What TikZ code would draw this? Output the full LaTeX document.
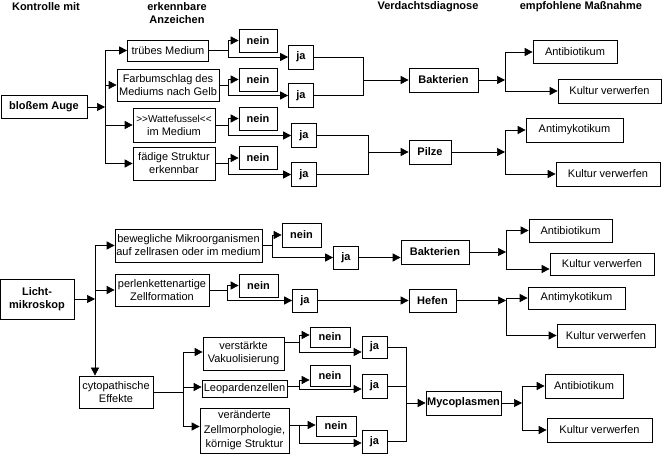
\documentclass[tikz,border=0pt]{standalone}
\usepackage{fontspec}
\setmainfont{Liberation Sans}
\usetikzlibrary{arrows.meta}
\tikzset{
  every node/.style={font=\fontsize{11}{13}\selectfont},
  box/.style={draw, line width=0.7pt, inner sep=0pt, align=center},
  bbox/.style={box, font=\fontsize{11}{13}\selectfont\bfseries},
  neinbox/.style={bbox, minimum width=38pt, minimum height=23pt},
  jabox/.style={bbox, minimum width=25pt, minimum height=24pt},
  head/.style={align=center, inner sep=0pt, font=\fontsize{11}{13}\selectfont\bfseries},
  ln/.style={line width=0.7pt},
  arr/.style={line width=0.7pt, -{Triangle[length=8pt,width=8pt]}}
}
\begin{document}
\begin{tikzpicture}[x=1pt,y=-1pt]
\useasboundingbox (0,0) rectangle (662,454);

% headers
\node[head] (h1) at (46,7) {Kontrolle mit};
\node[head] (h2) at (177,13) {erkennbare\\Anzeichen};
\node[head] (h3) at (428,7) {Verdachtsdiagnose};
\node[head] (h4) at (581,7) {empfohlene Maßnahme};

% ---------------- top section ----------------
\node[bbox, minimum width=86pt, minimum height=23pt] (auge) at (44,107) {bloßem Auge};
\coordinate (t1) at (105,107);
\node[box, minimum width=81pt, minimum height=21pt] (tm) at (168,50.5) {trübes Medium};
\node[box, minimum width=102pt, minimum height=32pt] (fa) at (168,85) {Farbumschlag des\\Mediums nach Gelb};
\node[box, minimum width=82pt, minimum height=34pt] (wa) at (174,125) {{\fontsize{10}{13}\selectfont >\kern0pt>Wattefussel<\kern0pt<}\\im Medium};
\node[box, minimum width=82pt, minimum height=33pt] (fs) at (174,163.5) {fädige Struktur\\erkennbar};

\draw[arr] (auge.east) -- (t1);
\draw[ln] (tm.west -| t1) -- (fs.west -| t1);
\draw[arr] (tm.west -| t1) -- (tm.west);
\draw[arr] (fa.west -| t1) -- (fa.west);
\draw[arr] (wa.west -| t1) -- (wa.west);
\draw[arr] (fs.west -| t1) -- (fs.west);

\node[neinbox] (n1) at (258,40.5) {nein};
\node[neinbox] (n2) at (258,79.5) {nein};
\node[neinbox] (n3) at (258,118.5) {nein};
\node[neinbox] (n4) at (258,158) {nein};
\node[jabox] (j1) at (301,57) {ja};
\node[jabox] (j2) at (301,95.5) {ja};
\node[jabox] (j3) at (304,135.5) {ja};
\node[jabox] (j4) at (304,174.5) {ja};

\coordinate (s1) at (228,0);
\draw[ln] (tm.east) -- (tm.east -| s1);
\draw[arr] (tm.east -| s1) |- (n1.west);
\draw[arr] (tm.east -| s1) |- (j1.west);
\draw[ln] (fa.east) -- (fa.east -| s1);
\draw[arr] (fa.east -| s1) |- (n2.west);
\draw[arr] (fa.east -| s1) |- (j2.west);
\draw[ln] (wa.east) -- (wa.east -| s1);
\draw[arr] (wa.east -| s1) |- (n3.west);
\draw[arr] (wa.east -| s1) |- (j3.west);
\draw[ln] (fs.east) -- (fs.east -| s1);
\draw[arr] (fs.east -| s1) |- (n4.west);
\draw[arr] (fs.east -| s1) |- (j4.west);

\node[bbox, minimum width=69pt, minimum height=24pt] (bak1) at (443.5,80) {Bakterien};
\node[bbox, minimum width=42pt, minimum height=24pt] (pil) at (430,152) {Pilze};

\coordinate (m1) at (363,0);
\coordinate (m2) at (368,0);
\draw[ln] (j1.east) -| (m1 |- j2.east) -- (j2.east);
\draw[arr] (bak1.west -| m1) -- (bak1.west);
\draw[ln] (j3.east) -| (m2 |- j4.east) -- (j4.east);
\draw[arr] (pil.west -| m2) -- (pil.west);

\node[box, minimum width=84pt, minimum height=23pt] (ab1) at (575,52) {Antibiotikum};
\node[box, minimum width=103pt, minimum height=24pt] (kv1) at (609.5,91) {Kultur verwerfen};
\node[box, minimum width=97pt, minimum height=24pt] (am1) at (574.5,130) {Antimykotikum};
\node[box, minimum width=104pt, minimum height=24pt] (kv2) at (608,174) {Kultur verwerfen};

\coordinate (r1) at (505,0);
\draw[arr] (bak1.east) -- (bak1.east -| r1);
\draw[arr] (bak1.east -| r1) |- (ab1.west);
\draw[arr] (bak1.east -| r1) |- (kv1.west);
\draw[arr] (pil.east) -- (pil.east -| r1);
\draw[arr] (pil.east -| r1) |- (am1.west);
\draw[arr] (pil.east -| r1) |- (kv2.west);

% ---------------- bottom section ----------------
\node[bbox, minimum width=74pt, minimum height=40pt] (li) at (37,299) {Licht-\\mikroskop};
\coordinate (t2) at (95,299);
\node[box, minimum width=147pt, minimum height=33pt] (bew) at (188.5,245.5) {bewegliche Mikroorganismen\\auf zellrasen oder im medium};
\node[box, minimum width=94pt, minimum height=32pt] (perl) at (162,290) {perlenkettenartige\\Zellformation};
\node[box, minimum width=74pt, minimum height=32pt] (cy) at (116,392) {cytopathische\\Effekte};

\draw[arr] (li.east) -- (t2);
\draw[arr] (t2) |- (bew.west);
\draw[arr] (t2) |- (perl.west);
\draw[arr] (t2) -- (t2 |- cy.north);

\node[neinbox, minimum width=39pt, minimum height=24pt] (nb) at (301.5,235) {nein};
\node[jabox, minimum height=23pt] (jb) at (346,257.5) {ja};
\coordinate (s3) at (272,0);
\draw[ln] (bew.east) -- (bew.east -| s3);
\draw[arr] (bew.east -| s3) |- (nb.west);
\draw[arr] (bew.east -| s3) |- (jb.west);

\node[neinbox, minimum width=39pt] (np) at (258.5,285.5) {nein};
\node[jabox, minimum height=23pt] (jp) at (305,300.5) {ja};
\coordinate (s4) at (227,0);
\draw[ln] (perl.east) -- (perl.east -| s4);
\draw[arr] (perl.east -| s4) |- (np.west);
\draw[arr] (perl.east -| s4) |- (jp.west);

\node[bbox, minimum width=68pt, minimum height=24pt] (bak2) at (435,252) {Bakterien};
\node[bbox, minimum width=47pt, minimum height=23pt] (hef) at (432.5,300.5) {Hefen};
\draw[arr] (jb.east) -- (jb.east -| bak2.west);
\draw[arr] (jp.east) -- (hef.west);

\node[box, minimum width=83pt, minimum height=23pt] (ab2) at (570.5,230.5) {Antibiotikum};
\node[box, minimum width=104pt, minimum height=22pt] (kv3) at (602,264) {Kultur verwerfen};
\node[box, minimum width=97pt, minimum height=22pt] (am2) at (576.5,298) {Antimykotikum};
\node[box, minimum width=98pt, minimum height=23pt] (kv4) at (606,335.5) {Kultur verwerfen};

\coordinate (r3) at (506,0);
\draw[arr] (bak2.east) -- (bak2.east -| r3);
\draw[arr] (bak2.east -| r3) |- (ab2.west);
\draw[arr] (bak2.east -| r3) |- ([yshift=-5pt]kv3.west);
\draw[arr] (hef.east) -- (hef.east -| r3);
\draw[arr] (hef.east -| r3) |- (am2.west);
\draw[arr] (hef.east -| r3) |- (kv4.west);

% cytopathic branch
\node[box, minimum width=81pt, minimum height=33pt] (vak) at (243.5,353.5) {verstärkte\\Vakuolisierung};
\node[box, minimum width=85pt, minimum height=17pt] (leo) at (244.5,388.5) {Leopardenzellen};
\node[box, minimum width=89pt, minimum height=45pt] (ver) at (244.5,430.5) {veränderte\\[1.5pt]Zellmorphologie,\\[1.5pt]körnige Struktur};
\coordinate (s5) at (183,0);
\draw[ln] (cy.east) -- (cy.east -| s5);
\draw[arr] (cy.east -| s5) |- ([yshift=1.5pt]vak.west);
\draw[arr] (cy.east -| s5) |- ([yshift=1.5pt]leo.west);
\draw[arr] (cy.east -| s5) |- ([yshift=4pt]ver.west);

\node[neinbox, minimum width=40pt, minimum height=20pt] (nc1) at (330,337) {nein};
\node[neinbox, minimum width=40pt, minimum height=21pt] (nc2) at (330,375.5) {nein};
\node[neinbox, minimum width=40pt, minimum height=20pt] (nc3) at (336,426) {nein};
\node[jabox, minimum height=22pt] (jc1) at (374.5,347) {ja};
\node[jabox, minimum height=24pt] (jc2) at (374.5,386) {ja};
\node[jabox, minimum height=23pt] (jc3) at (374.5,441.5) {ja};

\coordinate (v1) at (299,342);
\coordinate (v2) at (299,386);
\coordinate (v3) at (299,425);
\draw[ln] (vak.east |- v1) -- (v1);
\draw[arr] (v1) |- ([yshift=2pt]nc1.west);
\draw[arr] (v1) |- ([yshift=-5pt]jc1.west);
\draw[ln] (leo.east |- v2) -- (v2);
\draw[arr] (v2) |- ([yshift=-4.5pt]nc2.west);
\draw[arr] (v2) |- ([yshift=-3pt]jc2.west);
\draw[ln] (ver.east |- v3) -- (v3);
\draw[arr] (v3) -- (v3 -| nc3.west);
\draw[arr] (v3) |- ([yshift=-1.5pt]jc3.west);

\node[bbox, minimum width=75pt, minimum height=24pt] (myc) at (463.5,403) {Mycoplasmen};
\coordinate (m5) at (406,0);
\draw[ln] (jc1.east) -| (m5 |- jc3.east) -- (jc3.east);
\draw[ln] (jc2.east) -- (jc2.east -| m5);
\draw[arr] (myc.west -| m5) -- (myc.west);

\node[box, minimum width=78pt, minimum height=24pt] (ab3) at (584,386) {Antibiotikum};
\node[box, minimum width=105pt, minimum height=24pt] (kv5) at (599.5,430) {Kultur verwerfen};
\coordinate (r5) at (522,0);
\draw[arr] (myc.east) -- (myc.east -| r5);
\draw[arr] (myc.east -| r5) |- (ab3.west);
\draw[arr] (myc.east -| r5) |- (kv5.west);
\end{tikzpicture}
\end{document}
